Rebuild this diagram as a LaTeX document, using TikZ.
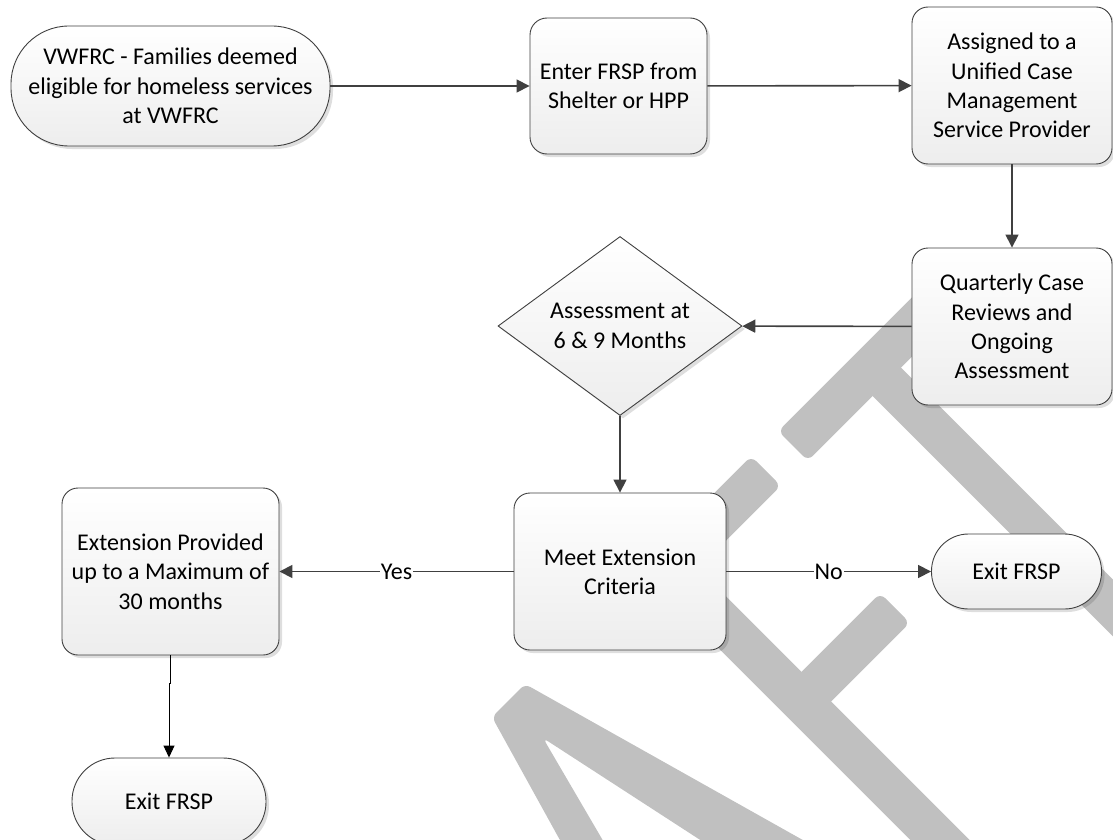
\documentclass[tikz,border=0pt]{standalone}
\usepackage{fontspec}
\setmainfont{Carlito}
\usetikzlibrary{arrows.meta,shapes.geometric,shadows,calc}
\definecolor{wm}{RGB}{192,192,192}
\definecolor{edgec}{RGB}{64,64,64}
\newcommand\wmbar[3]{\fill[wm, rounded corners=7pt] ($#1!#3!90:#2$) -- ($#2!#3!-90:#1$) -- ($#2!#3!90:#1$) -- ($#1!#3!-90:#2$) -- cycle;}
\begin{document}
\begin{tikzpicture}[x=1pt,y=-1pt,
  font=\fontsize{24}{29.3}\selectfont,
  box/.style={draw=edgec, line width=0.9pt, rounded corners=16pt,
    top color=white, bottom color=black!7, align=center, inner sep=0pt,
    drop shadow={shadow xshift=3pt, shadow yshift=-3pt, fill=black, opacity=0.13}},
  term/.style={box, rounded corners=#1},
  dec/.style={draw=edgec, line width=0.9pt, shape=diamond, aspect=1.36,
    top color=white, bottom color=black!7, align=center, inner sep=0pt,
    drop shadow={shadow xshift=3pt, shadow yshift=-3pt, fill=black, opacity=0.13}},
  conn/.style={draw=edgec, line width=1.6pt, -{Triangle[length=13pt,width=13pt]}},
  conn2/.style={draw=black, line width=0.9pt, -{Triangle[length=12pt,width=11pt]}},
  lbl/.style={fill=white, inner sep=1pt, text=black}]
\useasboundingbox (0,0) rectangle (1113,840);
\fill[white] (0,0) rectangle (1113,840);
\clip (0,0) rectangle (1113,840);
% watermark
\wmbar{(793,446)}{(952,287)}{21pt}
\wmbar{(872,367)}{(1160,655)}{20pt}
\wmbar{(653.5,553.5)}{(975,875)}{21pt}
\wmbar{(668.5,568.5)}{(766,471)}{21pt}
\wmbar{(801.5,701.5)}{(895,608)}{21pt}
\fill[wm, rounded corners=6pt] (582,880) -- (492,717) -- (525,684) -- (874,880) -- (762,880) -- (543,738) -- (626,880) -- cycle;
% nodes
\node[term=58pt, minimum width=319pt, minimum height=120pt] (n1) at (170.5,86)
  {VWFRC - Families deemed\\eligible for homeless services\\at VWFRC};
\node[box, rounded corners=17pt, minimum width=177pt, minimum height=136pt] (n2) at (618.5,86)
  {Enter FRSP from\\Shelter or HPP};
\node[box, minimum width=200pt, minimum height=157pt] (n3) at (1012,85.5)
  {Assigned to a\\Unified Case\\Management\\Service Provider};
\node[box, minimum width=200pt, minimum height=157pt] (n4) at (1012,326.5)
  {Quarterly Case\\Reviews and\\Ongoing\\Assessment};
\node[dec, minimum width=244pt, minimum height=179pt] (dia) at (620,326)
  {Assessment at\\6 \& 9 Months};
\node[box, minimum width=212pt, minimum height=157pt] (n5) at (620,571.5)
  {Meet Extension\\Criteria};
\node[box, minimum width=217pt, minimum height=167pt] (n6) at (170.5,571.5)
  {Extension Provided\\up to a Maximum of\\30 months};
\node[term=37pt, minimum width=170pt, minimum height=75pt] (x1) at (1016.5,571.5) {Exit FRSP};
\node[term=43pt, minimum width=194pt, minimum height=87pt] (x2) at (169,801.5) {Exit FRSP};
% connectors
\draw[conn] (n1) -- (n2);
\draw[conn] (n2) -- (n3);
\draw[conn] (n3) -- (n4);
\draw[conn] (n4) -- (dia);
\draw[conn] (dia) -- (n5);
\draw[conn] (n5) -- node[lbl]{No} (x1);
\draw[conn] (n5) -- node[lbl]{Yes} (n6);
\coordinate (j) at (170.5,683);
\draw[conn2] (n6.south) -- (j) -- (j -| x2.north) -- (x2.north);
\end{tikzpicture}
\end{document}
